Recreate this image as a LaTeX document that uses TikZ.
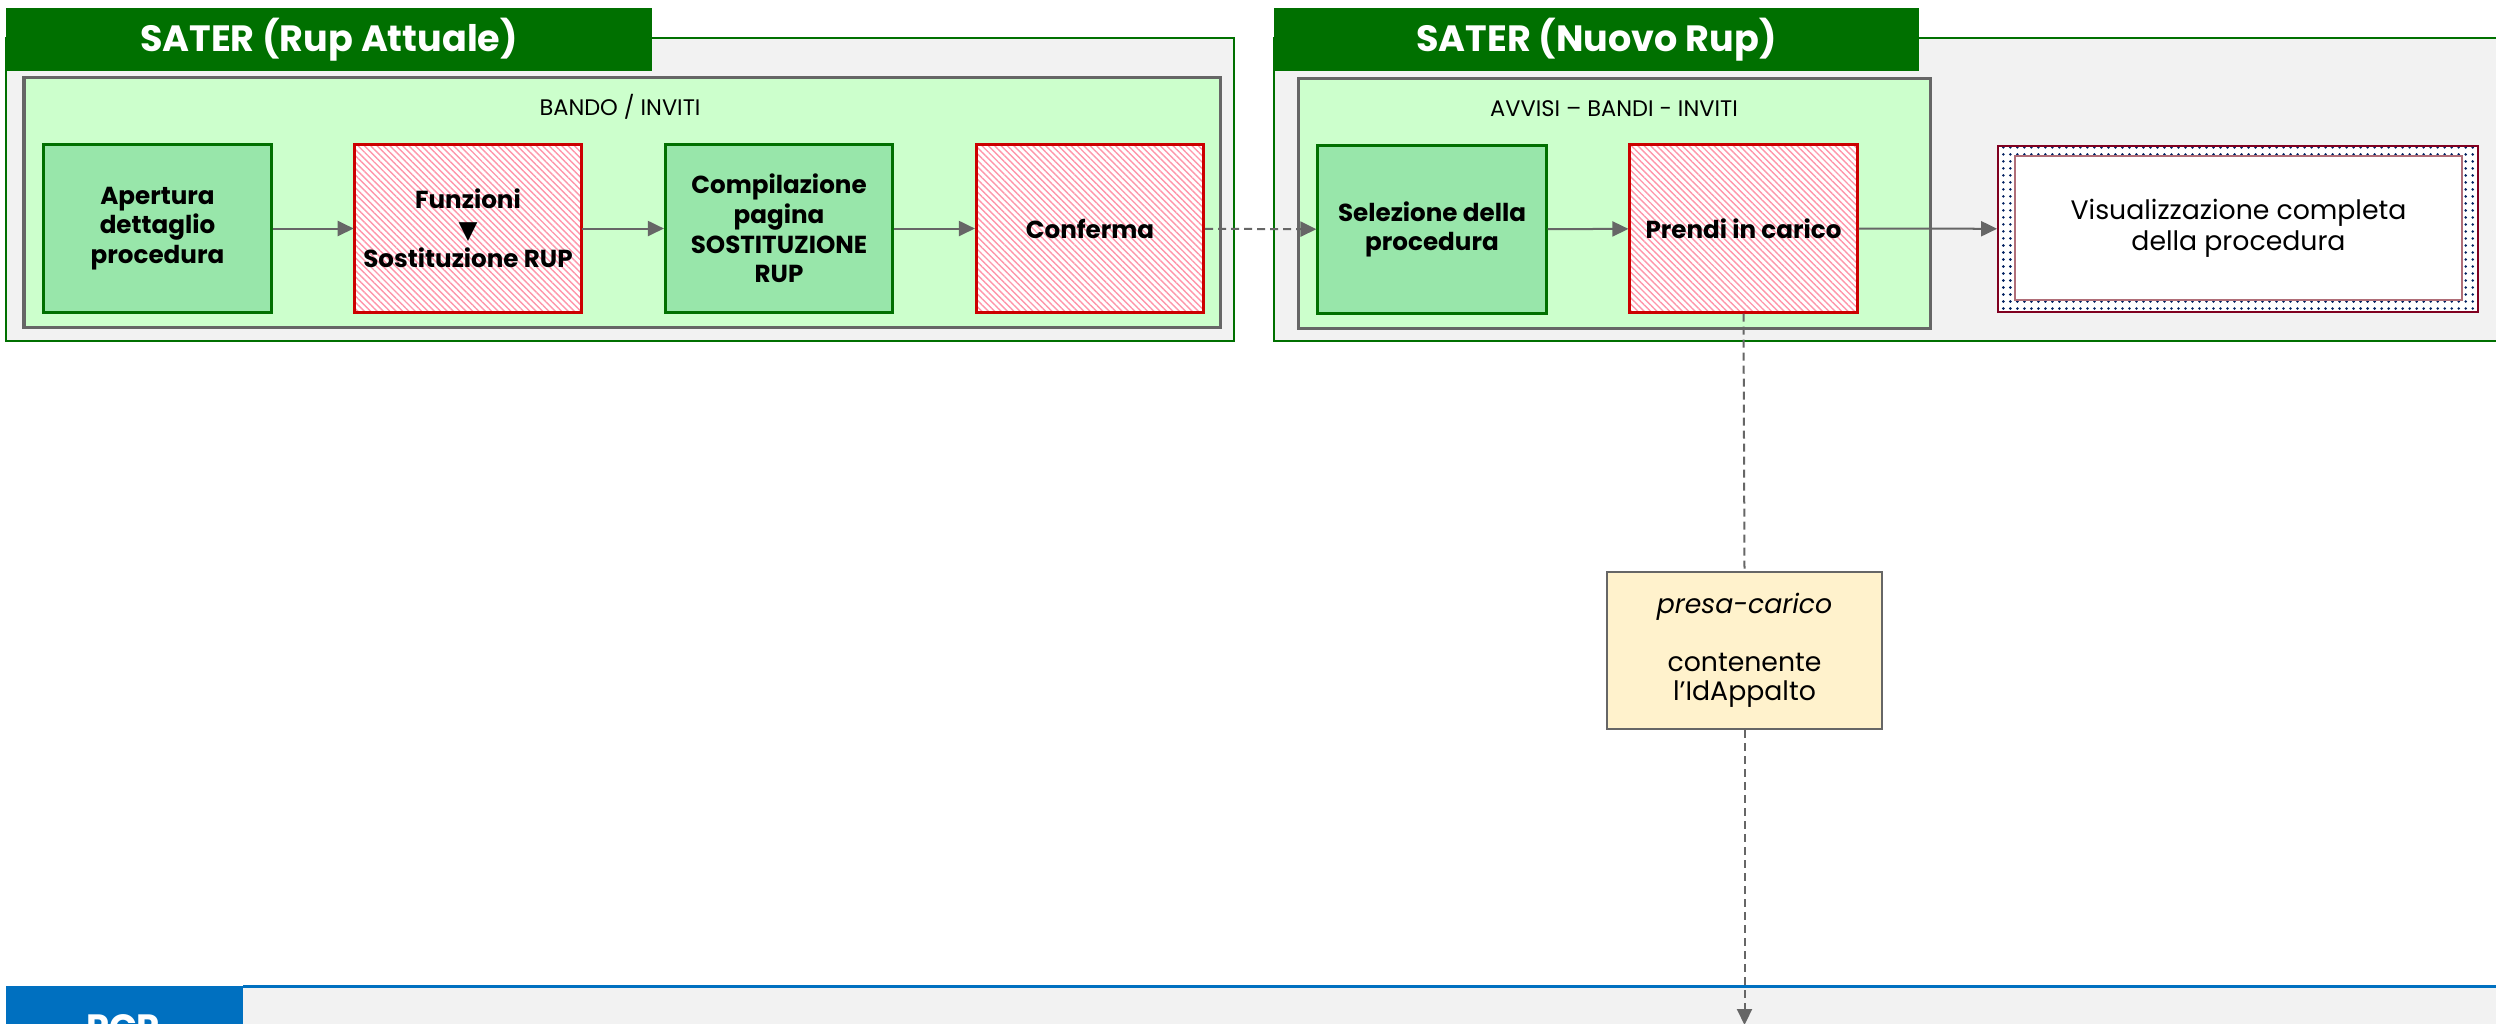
\documentclass[tikz,border=0pt]{standalone}
\usepackage{fontspec}
\setmainfont{Poppins}
\newfontfamily\glyphfont{DejaVu Sans}
\usetikzlibrary{arrows.meta,patterns.meta}

\definecolor{satergreen}{RGB}{0,112,0}
\definecolor{panelgray}{RGB}{242,242,242}
\definecolor{lanegreen}{RGB}{204,255,204}
\definecolor{framegray}{RGB}{102,102,102}
\definecolor{stepgreenfill}{RGB}{152,230,170}
\definecolor{stepred}{RGB}{204,0,0}
\definecolor{hatchpink}{RGB}{255,150,170}
\definecolor{notefill}{RGB}{255,242,204}
\definecolor{pcpblue}{RGB}{0,112,192}
\definecolor{dotnavy}{RGB}{0,32,96}
\definecolor{viewred}{RGB}{128,0,32}
\definecolor{viewinner}{RGB}{176,110,120}

\newcommand{\headfont}{\fontsize{10.4pt}{12pt}\selectfont\bfseries}
\newcommand{\stepfont}{\fontsize{7pt}{8.4pt}\selectfont\bfseries}
\newcommand{\lanefont}{\fontsize{6.4pt}{7.6pt}\selectfont}
\newcommand{\notefont}{\fontsize{7.6pt}{8.2pt}\selectfont}

\tikzset{
  titlebar/.style={fill=satergreen, text=white, font=\headfont, minimum height=0.63cm, inner sep=0pt},
  stepbox/.style={draw=satergreen, line width=0.03cm, fill=stepgreenfill, minimum width=2.27cm, minimum height=1.67cm, align=center, font=\stepfont, inner sep=0pt},
  stephatch/.style={draw=stepred, line width=0.03cm, preaction={fill=white}, pattern={Lines[angle=-45,distance=0.045cm,line width=0.014cm]}, pattern color=hatchpink, minimum width=2.27cm, minimum height=1.67cm, align=center, font=\stepfont, inner sep=0pt},
  flow/.style={draw=framegray, line width=0.02cm},
}

\begin{document}
\begin{tikzpicture}[x=0.01cm, y=-0.01cm, >={Triangle[length=0.16cm,width=0.15cm]}]
\useasboundingbox (0,0) rectangle (2496,1023);
\clip (0,0) rectangle (2496,1023);
\fill[white] (0,0) rectangle (2496,1023);

\fill[panelgray] (6,38) rectangle (1234,341);
\draw[satergreen, line width=0.025cm] (6,38) rectangle (1234,341);
\fill[panelgray] (1274,38) rectangle (2510,341);
\draw[satergreen, line width=0.025cm] (1274,38) rectangle (2510,341);

\draw (329,39.5) node[titlebar, minimum width=6.46cm] (titleA) {SATER (Rup Attuale)};
\draw (1596.5,39.5) node[titlebar, minimum width=6.45cm] (titleB) {SATER (Nuovo Rup)};

\fill[lanegreen] (24,77) rectangle (1220,327);
\draw[framegray, line width=0.03cm] (24,77) rectangle (1220,327);
\fill[lanegreen] (1298,78) rectangle (1930,328);
\draw[framegray, line width=0.03cm] (1298,78) rectangle (1930,328);

\draw (620,107) node[font=\lanefont] (laneA) {BANDO / INVITI};
\draw (1614,109) node[font=\lanefont] (laneB) {AVVISI -- BANDI - INVITI};

\draw (157.5,228.5) node[stepbox] (apertura) {Apertura\\dettaglio\\procedura};
\draw (468,228.5) node[stephatch] (funzioni) {Funzioni\\{\glyphfont ▼}\\Sostituzione RUP};
\draw (779,228.5) node[stepbox] (compila) {Compilazione\\pagina\\SOSTITUZIONE\\RUP};
\draw (1090,228.5) node[stephatch] (conferma) {Conferma};
\draw (1432,229.5) node[stepbox, minimum width=2.28cm] (selezione) {Selezione della\\procedura};
\draw (1743.5,228.5) node[stephatch] (prendi) {Prendi in carico};

\draw (2238,229) node[draw=viewred, line width=0.015cm, preaction={fill=white}, pattern={Dots[distance=0.07cm,radius=0.014cm]}, pattern color=dotnavy, minimum width=4.8cm, minimum height=1.66cm] (visual) {};
\draw (2238.5,228) node[draw=viewinner, line width=0.015cm, fill=white, minimum width=4.47cm, minimum height=1.44cm, align=center, font=\fontsize{7.6pt}{8.8pt}\selectfont] (visualtext) {Visualizzazione completa\\della procedura};

\draw (1744.5,650.5) node[draw=framegray, line width=0.025cm, fill=notefill, minimum width=2.75cm, minimum height=1.57cm, align=center, font=\notefont] (presa) {\textit{presa-carico}\\[8.2pt]contenente\\l’IdAppalto};

\fill[panelgray] (243,988) rectangle (2510,1030);
\fill[pcpblue] (6,986) rectangle (243,1030);
\draw[pcpblue, line width=0.03cm] (243,986) -- (2510,986);
\draw (123,1040) node[anchor=base, text=white, font=\headfont, inner sep=0pt] (pcp) {PCP};
\coordinate (pcpin) at (1744.5,1025);

\draw[flow, ->] (apertura) -- (funzioni);
\draw[flow, ->] (funzioni) -- (compila);
\draw[flow, ->] (compila) -- (conferma);
\draw[flow, ->, dash pattern=on 0.08cm off 0.05cm] (conferma) -- (selezione);
\draw[flow, ->] (selezione) -- (prendi);
\draw[flow, ->] (prendi) -- (visual);
\draw[flow, dash pattern=on 0.08cm off 0.05cm] (prendi.south) -- (presa.north);
\draw[flow, ->, dash pattern=on 0.08cm off 0.05cm] (presa.south) -- (pcpin);

\end{tikzpicture}
\end{document}
